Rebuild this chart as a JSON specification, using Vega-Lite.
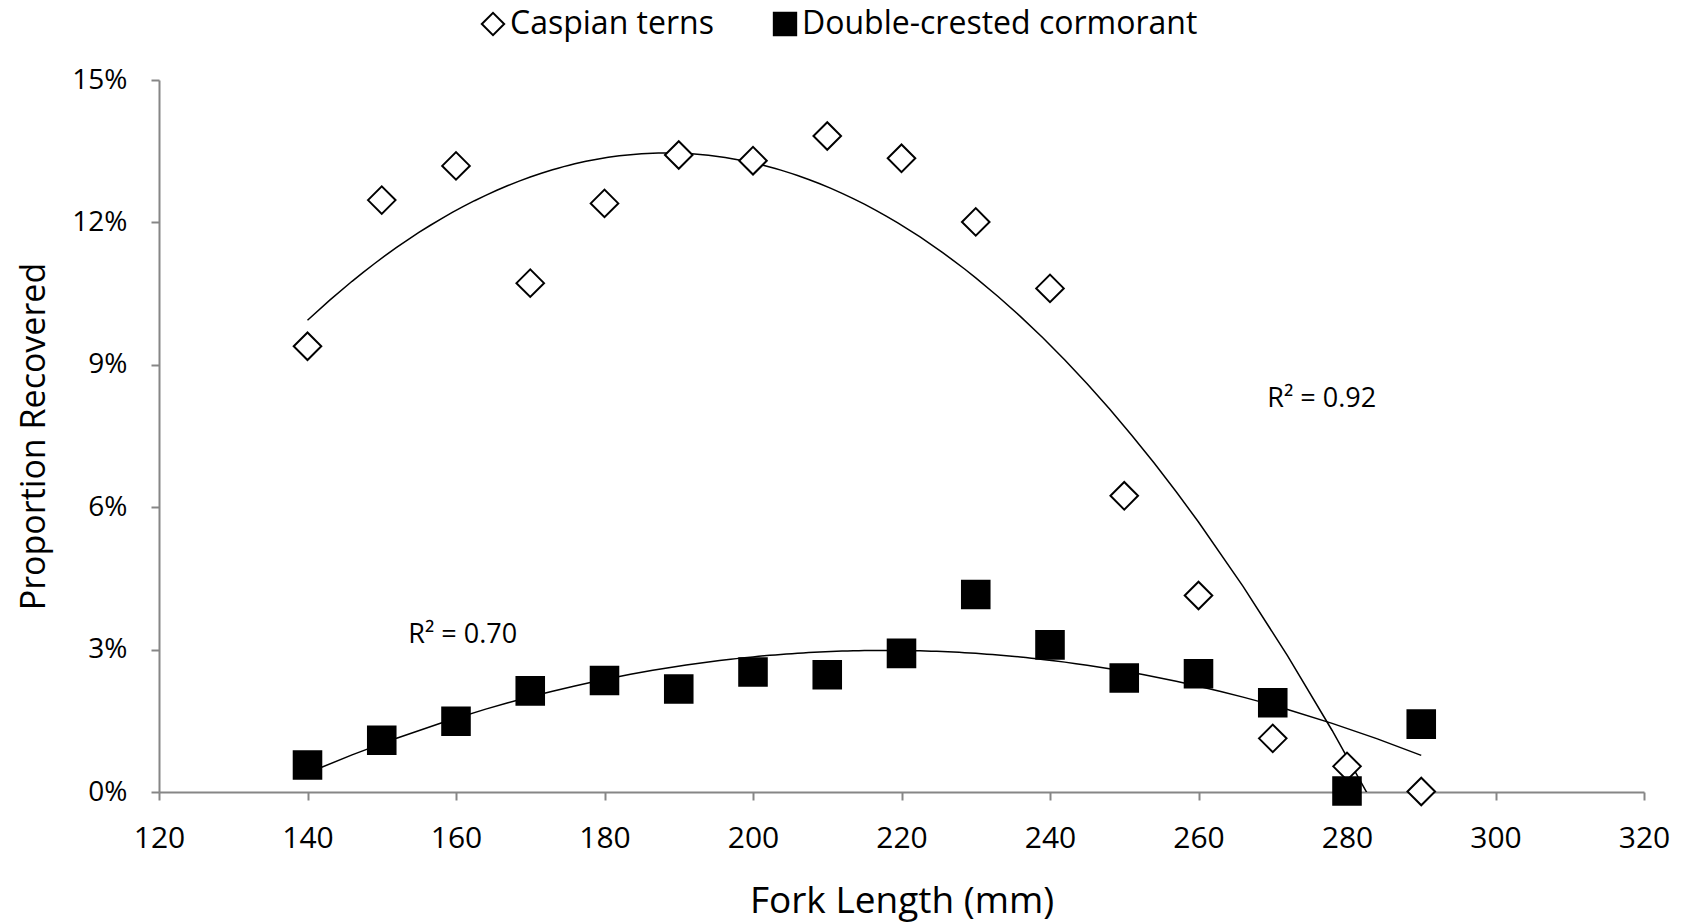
{
  "$schema": "https://vega.github.io/schema/vega-lite/v6.json",
  "autosize": "none",
  "width": 1485,
  "height": 712,
  "padding": {"left": 159, "top": 80, "right": 40, "bottom": 130},
  "background": "white",
  "config": {
    "view": {"stroke": null},
    "font": "Open Sans",
    "axis": {
      "grid": false,
      "domainColor": "#868686",
      "domainWidth": 2,
      "tickColor": "#868686",
      "tickWidth": 2,
      "tickSize": 8,
      "labelColor": "black",
      "titleColor": "black",
      "labelFont": "Open Sans",
      "titleFont": "Open Sans",
      "titleFontWeight": "normal",
      "labelFlush": false,
      "labelOverlap": false
    },
    "legend": {
      "title": null, "orient": "none", "direction": "horizontal",
      "legendX": 318, "legendY": -72,
      "labelFontSize": 32, "labelFont": "Open Sans", "labelColor": "black", "labelLimit": 0,
      "symbolSize": 500, "symbolStrokeColor": "black", "symbolStrokeWidth": 2,
      "labelOffset": 1, "columnPadding": 55, "symbolOffset": 0, "padding": 0
    }
  },
  "datasets": {
    "pts": [
      {"fl": 140, "prop": 0.0939, "species": "Caspian terns"},
      {"fl": 150, "prop": 0.1247, "species": "Caspian terns"},
      {"fl": 160, "prop": 0.1319, "species": "Caspian terns"},
      {"fl": 170, "prop": 0.1072, "species": "Caspian terns"},
      {"fl": 180, "prop": 0.1240, "species": "Caspian terns"},
      {"fl": 190, "prop": 0.1342, "species": "Caspian terns"},
      {"fl": 200, "prop": 0.1330, "species": "Caspian terns"},
      {"fl": 210, "prop": 0.1382, "species": "Caspian terns"},
      {"fl": 220, "prop": 0.1335, "species": "Caspian terns"},
      {"fl": 230, "prop": 0.1201, "species": "Caspian terns"},
      {"fl": 240, "prop": 0.1061, "species": "Caspian terns"},
      {"fl": 250, "prop": 0.0624, "species": "Caspian terns"},
      {"fl": 260, "prop": 0.0414, "species": "Caspian terns"},
      {"fl": 270, "prop": 0.0113, "species": "Caspian terns"},
      {"fl": 280, "prop": 0.0054, "species": "Caspian terns"},
      {"fl": 290, "prop": 0.0001, "species": "Caspian terns"},
      {"fl": 140, "prop": 0.0057, "species": "Double-crested cormorant"},
      {"fl": 150, "prop": 0.0109, "species": "Double-crested cormorant"},
      {"fl": 160, "prop": 0.0149, "species": "Double-crested cormorant"},
      {"fl": 170, "prop": 0.0213, "species": "Double-crested cormorant"},
      {"fl": 180, "prop": 0.0235, "species": "Double-crested cormorant"},
      {"fl": 190, "prop": 0.0217, "species": "Double-crested cormorant"},
      {"fl": 200, "prop": 0.0253, "species": "Double-crested cormorant"},
      {"fl": 210, "prop": 0.0247, "species": "Double-crested cormorant"},
      {"fl": 220, "prop": 0.0292, "species": "Double-crested cormorant"},
      {"fl": 230, "prop": 0.0416, "species": "Double-crested cormorant"},
      {"fl": 240, "prop": 0.0310, "species": "Double-crested cormorant"},
      {"fl": 250, "prop": 0.0240, "species": "Double-crested cormorant"},
      {"fl": 260, "prop": 0.0249, "species": "Double-crested cormorant"},
      {"fl": 270, "prop": 0.0188, "species": "Double-crested cormorant"},
      {"fl": 280, "prop": 0.0002, "species": "Double-crested cormorant"},
      {"fl": 290, "prop": 0.0143, "species": "Double-crested cormorant"}
    ],
    "notes": [
      {"fl": 276.6, "prop": 0.0829, "text": "R² = 0.92"},
      {"fl": 160.9, "prop": 0.0330, "text": "R² = 0.70"}
    ]
  },
  "encoding": {
    "x": {
      "field": "fl", "type": "quantitative",
      "scale": {"domain": [120, 320], "nice": false, "zero": false},
      "axis": {"values": [120,140,160,180,200,220,240,260,280,300,320], "title": "Fork Length (mm)", "labelFontSize": 30, "labelPadding": 23, "titleFontSize": 37, "titlePadding": 30}
    },
    "y": {
      "field": "prop", "type": "quantitative",
      "scale": {"domain": [0, 0.15], "nice": false},
      "axis": {"values": [0,0.03,0.06,0.09,0.12,0.15], "format": ".0%", "title": "Proportion Recovered", "labelFontSize": 28, "labelPadding": 24, "titleFontSize": 34, "titlePadding": 20}
    }
  },
  "layer": [
    {
      "data": {"name": "pts"},
      "transform": [
        {"filter": "datum.species === 'Caspian terns'"},
        {"regression": "prop", "on": "fl", "method": "poly", "order": 2, "extent": [140, 290]}
      ],
      "mark": {"type": "line", "color": "black", "strokeWidth": 1.5, "clip": true},
      "encoding": {}
    },
    {
      "data": {"name": "pts"},
      "transform": [
        {"filter": "datum.species === 'Double-crested cormorant'"},
        {"regression": "prop", "on": "fl", "method": "poly", "order": 2, "extent": [140, 290]}
      ],
      "mark": {"type": "line", "color": "black", "strokeWidth": 1.5, "clip": true},
      "encoding": {}
    },
    {
      "data": {"name": "pts"},
      "mark": {"type": "point", "filled": true, "strokeWidth": 2, "opacity": 1},
      "encoding": {
        "shape": {
          "field": "species", "type": "nominal",
          "scale": {"domain": ["Caspian terns", "Double-crested cormorant"], "range": ["diamond", "square"]}
        },
        "fill": {
          "field": "species", "type": "nominal",
          "scale": {"domain": ["Caspian terns", "Double-crested cormorant"], "range": ["white", "black"]}
        },
        "stroke": {
          "field": "species", "type": "nominal",
          "scale": {"domain": ["Caspian terns", "Double-crested cormorant"], "range": ["black", "black"]}
        },
        "size": {"value": 760}
      }
    },
    {
      "data": {"name": "notes"},
      "mark": {"type": "text", "fontSize": 27, "font": "Open Sans", "color": "black", "align": "center", "baseline": "middle"},
      "encoding": {"text": {"field": "text"}}
    }
  ]
}
